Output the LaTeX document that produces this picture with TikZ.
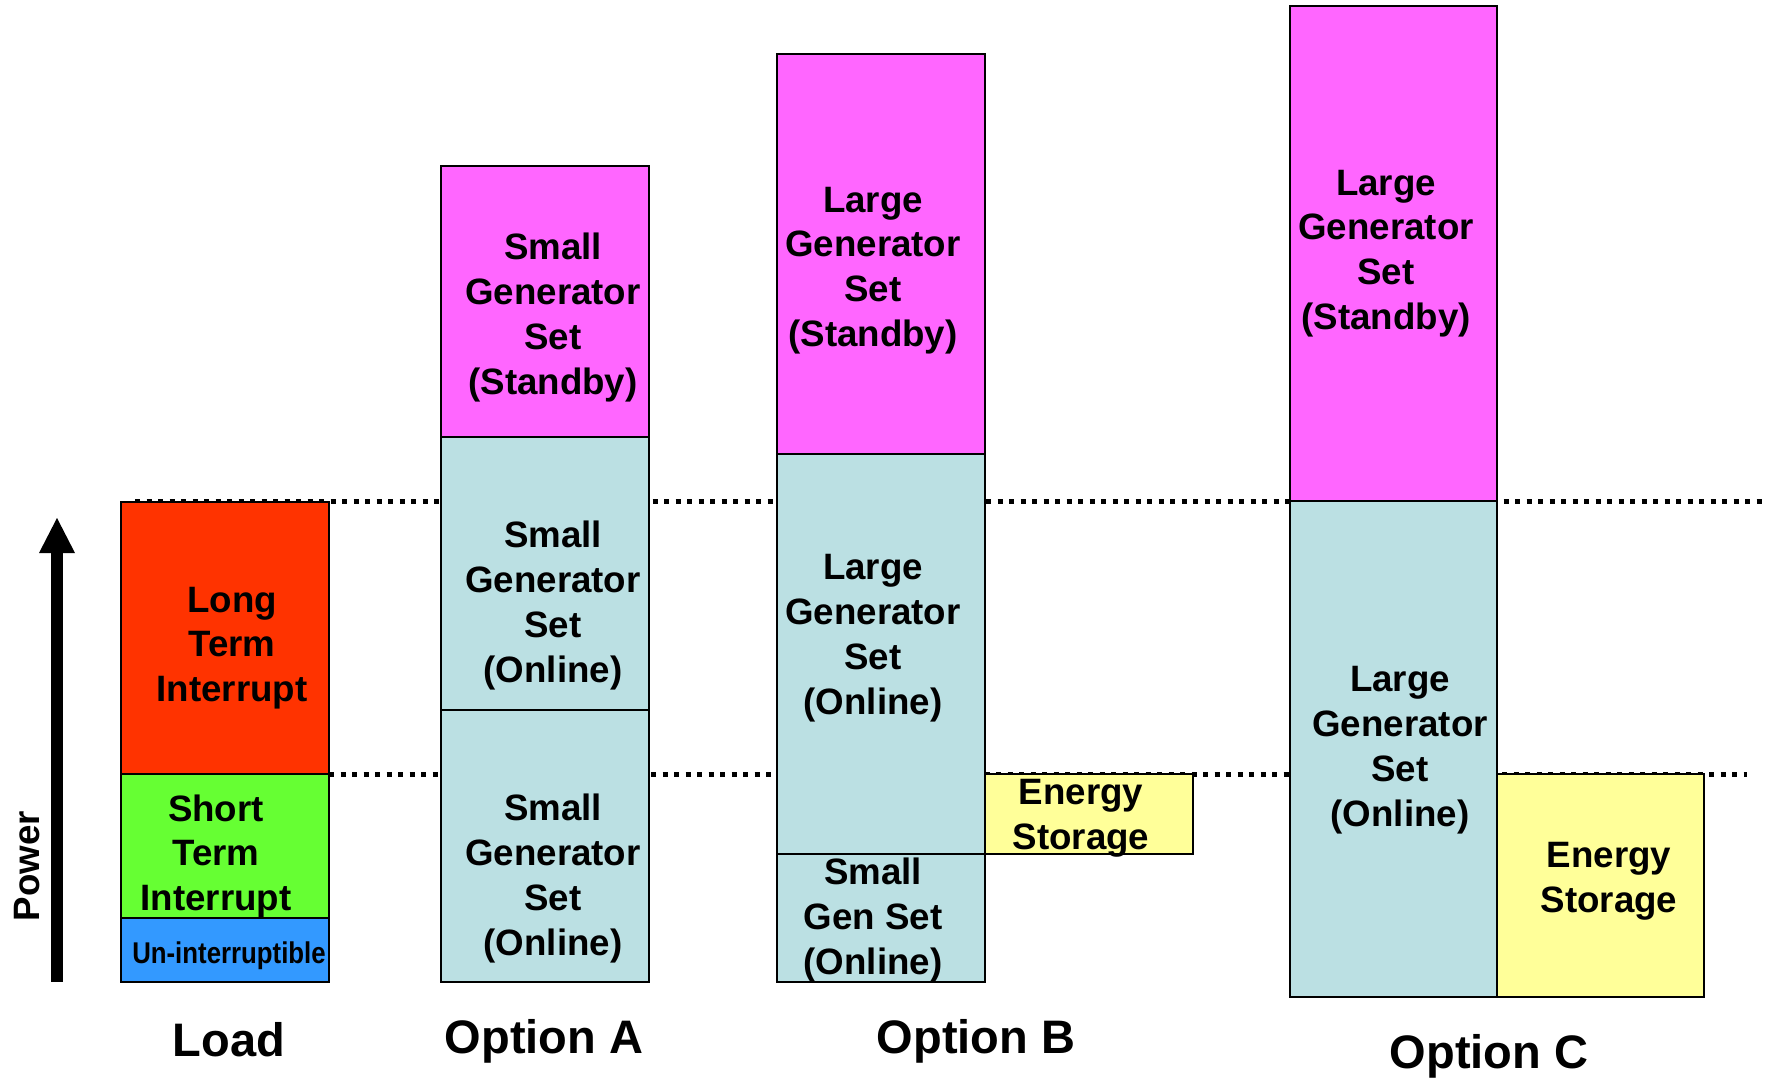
\documentclass[tikz,border=0pt]{standalone}
\usepackage{fontspec}
\setmainfont{Liberation Sans}
\definecolor{cred}{HTML}{FF3300}
\definecolor{cgreen}{HTML}{66FF33}
\definecolor{cblue}{HTML}{3399FF}
\definecolor{cmag}{HTML}{FF66FF}
\definecolor{clight}{HTML}{BBE0E3}
\definecolor{cyel}{HTML}{FFFF99}
\begin{document}
\begin{tikzpicture}[x=1pt,y=-1pt,
  seg/.style={draw=black, line width=2.7pt},
  lbl/.style={font={\bfseries\fontsize{36.7}{44.8}\selectfont}, align=center, inner sep=0pt},
  captxt/.style={font={\bfseries\fontsize{47}{56}\selectfont}, inner sep=0pt},
  dots/.style={line width=5pt, dash pattern=on 5pt off 6.5pt}]
\useasboundingbox[fill=white] (0,0) rectangle (1769,1078);
% level lines
\coordinate (u1) at (135,501.5);
\coordinate (u2) at (1763,501.5);
\coordinate (l1) at (329,774);
\coordinate (l2) at (1747,774);
\draw[dots] (u1) -- (u2);
\draw[dots] (l1) -- (l2);
% power arrow
\fill (51,982) rectangle (63,552);
\fill (39,553) -- (75,553) -- (57,518) -- cycle;
\node[lbl, rotate=90] (power) at (27,866) {Power};
% Load
\draw[seg, fill=cred] (121,502) rectangle (329,774);
\draw[seg, fill=cgreen] (121,774) rectangle (329,918);
\draw[seg, fill=cblue] (121,918) rectangle (329,982);
\node[lbl] (ltl) at (232,648) {Long\\Term\\Interrupt};
\node[lbl] (lts) at (216,856.5) {Short\\Term\\Interrupt};
\node[inner sep=0pt, font={\bfseries\fontsize{30}{36}\selectfont}] (lun) at (229,956) {\scalebox{0.86}[1]{Un-interruptible}};
% Option A
\draw[seg, fill=cmag] (441,166) rectangle (649,437);
\draw[seg, fill=clight] (441,437) rectangle (649,710);
\draw[seg, fill=clight] (441,710) rectangle (649,982);
\node[lbl] (as) at (553,317.5) {Small\\Generator\\Set\\(Standby)};
\node[lbl] (ao1) at (553,605.5) {Small\\Generator\\Set\\(Online)};
\node[lbl] (ao2) at (553,878.5) {Small\\Generator\\Set\\(Online)};
% Option B
\draw[seg, fill=cmag] (777,54) rectangle (985,454);
\draw[seg, fill=clight] (777,454) rectangle (985,854);
\draw[seg, fill=clight] (777,854) rectangle (985,982);
\draw[seg, fill=cyel] (985,774) rectangle (1193,854);
\node[lbl] (bs) at (873,270.5) {Large\\Generator\\Set\\(Standby)};
\node[lbl] (bo1) at (873,638) {Large\\Generator\\Set\\(Online)};
\node[lbl] (bo2) at (873,920) {Small\\Gen Set\\(Online)};
\node[lbl] (bes) at (1081,818.5) {Energy\\Storage};
% Option C
\draw[seg, fill=cmag] (1290,6) rectangle (1497,501);
\draw[seg, fill=clight] (1290,501) rectangle (1497,997);
\draw[seg, fill=cyel] (1497,774) rectangle (1704,997);
\node[lbl] (cs) at (1386,253.5) {Large\\Generator\\Set\\(Standby)};
\node[lbl] (co) at (1400,750) {Large\\Generator\\Set\\(Online)};
\node[lbl] (ces) at (1609,881.5) {Energy\\Storage};
% captions
\node[captxt] (tload) at (229,1040) {Load};
\node[captxt] (ta) at (544,1041) {Option A};
\node[captxt] (tb) at (976,1041) {Option B};
\node[captxt] (tc) at (1489,1056) {Option C};
\end{tikzpicture}
\end{document}
